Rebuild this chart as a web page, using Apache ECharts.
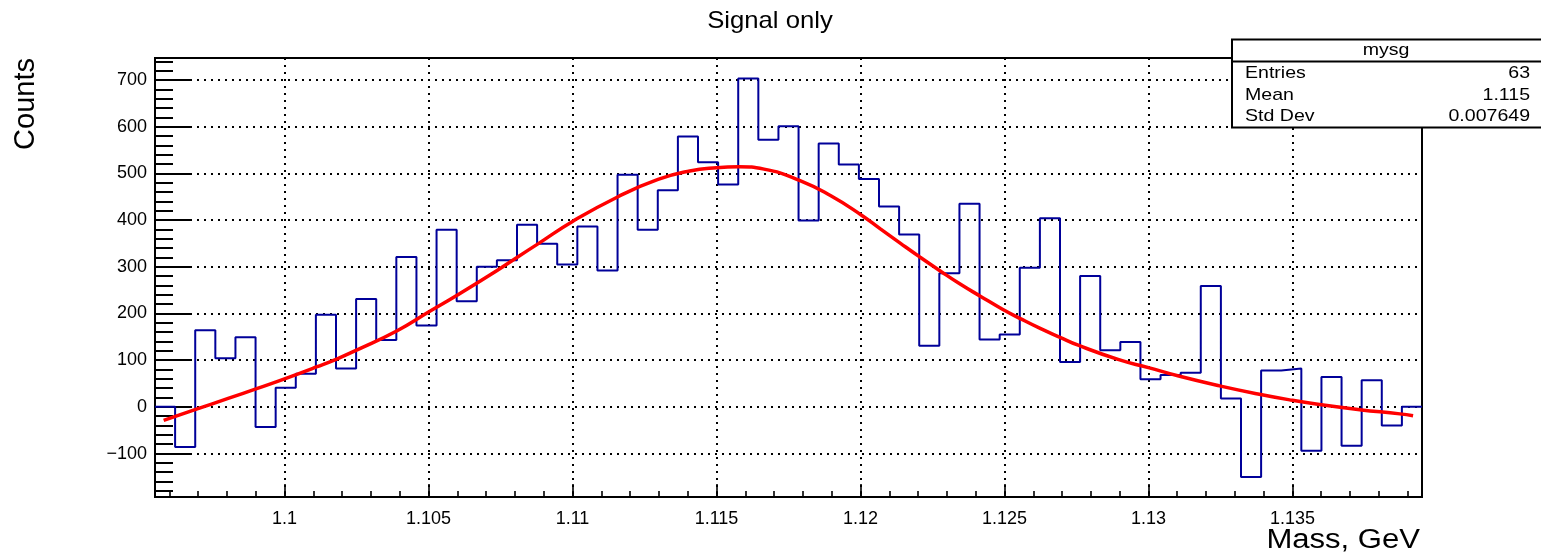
<!DOCTYPE html>
<html><head><meta charset="utf-8">
<script src="https://cdn.jsdelivr.net/npm/echarts@6/dist/echarts.min.js"></script>
<style>html,body{margin:0;padding:0;background:#fff}#c{width:1541px;height:556px}</style>
</head><body><div id="c"></div>
<script>
// ---------- data ----------
const histTitle = 'Signal only';
const histName = 'mysg';
const xAxisTitle = 'Mass, GeV';
const yAxisTitle = 'Counts';
const binLow = 1.0955;
const binHigh = 1.1395;
const nBins = 63;
const counts = [0, -86, 164, 104, 149, -43, 41, 71, 197, 82, 231, 143, 321, 174, 379, 226,
  300, 314, 390, 349, 305, 386, 292, 497, 379, 464, 579, 524, 476, 703, 572, 601,
  399, 564, 519, 488, 429, 369, 131, 286, 435, 144, 155, 298, 404, 96, 280, 121,
  139, 59, 68, 73, 259, 18, -150, 78, 82, -94, 64, -83, 57, -40, 0];
const fitX = [1.09580, 1.09694, 1.09804, 1.09903, 1.10000, 1.10113, 1.10183, 1.10252, 1.10391,
  1.10500, 1.10599, 1.10738, 1.10807, 1.10880, 1.11000, 1.11158, 1.11297, 1.11407, 1.11500,
  1.11578, 1.11665, 1.11792, 1.11897, 1.12000, 1.12069, 1.12139, 1.12208, 1.12277, 1.12346,
  1.12416, 1.12493, 1.12555, 1.12624, 1.12693, 1.12756, 1.12897, 1.13000, 1.13105, 1.13247,
  1.13385, 1.13500, 1.13594, 1.13734, 1.13873, 1.13919];
const fitY = [-29, -5, 18, 39, 60, 86, 103, 122, 163, 203, 239, 292, 320, 349, 397, 450, 487,
  505, 512, 514, 509, 484, 452, 412, 381, 350, 320, 291, 263, 237, 209, 189, 168, 149, 132,
  101, 84, 66, 45, 27, 14, 5, -6, -15, -19];
const xMajorTicks = [1.1, 1.105, 1.11, 1.115, 1.12, 1.125, 1.13, 1.135];
const yMajorTicks = [-100, 0, 100, 200, 300, 400, 500, 600, 700];
const yMin = -193, yMax = 747;
const statsLabels = ['Entries', 'Mean', 'Std Dev'];
const statsValues = ['63', '1.115', '0.007649'];

// ---------- build ----------
const FONT = "'Liberation Sans', Arial, Helvetica, sans-serif";
const binW = (binHigh - binLow) / nBins;
const histPts = counts.map((v, i) => [binLow + i * binW, v]);
histPts.push([binHigh, counts[counts.length - 1]]);
const fitPts = fitX.map((x, i) => [x, fitY[i]]);
const xMinor = [];
for (let k = 1096; k <= 1139; k++) xMinor.push(k / 1000);
const yMinor = [];
for (let v = -180; v <= 740; v += 20) yMinor.push(v);

const chart = echarts.init(document.getElementById('c'), null, {renderer: 'canvas', devicePixelRatio: 1});
const baseAxis = {
  type: 'value', animation: false,
  axisLine: {show: false, onZero: false},
  splitLine: {show: false},
  axisLabel: {show: false},
};
const stY = [73.5, 95, 116.5];
const graphics = [
  {type: 'text', x: 770, y: 21, scaleX: 1.07, z: 50,
    style: {text: histTitle, font: '24px ' + FONT, fill: '#000', align: 'center', verticalAlign: 'middle'}},
  {type: 'text', x: 1420, y: 541, scaleX: 1.15, z: 50,
    style: {text: xAxisTitle, font: '27px ' + FONT, fill: '#000', align: 'right', verticalAlign: 'middle'}},
  {type: 'text', x: 26, y: 58, rotation: Math.PI / 2, z: 50,
    style: {text: yAxisTitle, font: '29px ' + FONT, fill: '#000', align: 'right', verticalAlign: 'middle'}},
  {type: 'rect', z: 60, shape: {x: 1232, y: 39.5, width: 340, height: 88},
    style: {fill: '#fff', stroke: '#000', lineWidth: 2}},
  {type: 'line', z: 61, shape: {x1: 1232, y1: 61.5, x2: 1545, y2: 61.5},
    style: {stroke: '#000', lineWidth: 2}},
  {type: 'text', x: 1386, y: 50.5, scaleX: 1.15, z: 62,
    style: {text: histName, font: '17px ' + FONT, fill: '#000', align: 'center', verticalAlign: 'middle'}},
];
statsLabels.forEach((t, i) => {
  graphics.push({type: 'text', x: 1245, y: stY[i], scaleX: 1.15, z: 62,
    style: {text: t, font: '17px ' + FONT, fill: '#000', align: 'left', verticalAlign: 'middle'}});
  graphics.push({type: 'text', x: 1530, y: stY[i], scaleX: 1.15, z: 62,
    style: {text: statsValues[i], font: '17px ' + FONT, fill: '#000', align: 'right', verticalAlign: 'middle'}});
});

chart.setOption({
  animation: false,
  backgroundColor: '#fff',
  grid: {left: 155, top: 58, width: 1267, height: 439, show: true, borderColor: '#000',
    borderWidth: 2, backgroundColor: 'transparent', containLabel: false, outerBoundsMode: 'none'},
  xAxis: [
    Object.assign({}, baseAxis, {
      min: binLow, max: binHigh, position: 'bottom',
      axisTick: {show: true, inside: true, length: 13, customValues: xMajorTicks,
        lineStyle: {color: '#000', width: 1.6}},
      axisLabel: {show: true, customValues: xMajorTicks, fontSize: 18, fontFamily: FONT,
        color: '#000', margin: 13, formatter: v => String(+v.toFixed(4))},
      splitLine: {show: true, lineStyle: {color: '#000', width: 2, type: [2, 5]}},
    }),
    Object.assign({}, baseAxis, {
      min: binLow, max: binHigh, position: 'bottom',
      axisTick: {show: true, inside: true, length: 6, customValues: xMinor,
        lineStyle: {color: '#000', width: 1.6}},
    }),
  ],
  yAxis: [
    Object.assign({}, baseAxis, {
      min: yMin, max: yMax, position: 'left',
      axisTick: {show: true, inside: true, length: 35, customValues: yMajorTicks,
        lineStyle: {color: '#000', width: 2}},
      axisLabel: {show: true, customValues: yMajorTicks, fontSize: 18, fontFamily: FONT,
        color: '#000', margin: 8, formatter: v => v < 0 ? '\u2212' + Math.abs(v) : String(v)},
      splitLine: {show: true, lineStyle: {color: '#000', width: 2, type: [2, 5]}},
    }),
    Object.assign({}, baseAxis, {
      min: yMin, max: yMax, position: 'left',
      axisTick: {show: true, inside: true, length: 18, customValues: yMinor,
        lineStyle: {color: '#000', width: 2}},
    }),
  ],
  series: [
    {type: 'line', name: histName, xAxisIndex: 0, yAxisIndex: 0, step: 'end', data: histPts,
      symbol: 'none', silent: true, z: 3, lineStyle: {color: '#000099', width: 2}},
    {type: 'line', name: 'fit', xAxisIndex: 0, yAxisIndex: 0, smooth: true, data: fitPts,
      symbol: 'none', silent: true, z: 4, lineStyle: {color: '#ff0000', width: 3.5}},
  ],
  graphic: graphics,
});
</script>
</body></html>
